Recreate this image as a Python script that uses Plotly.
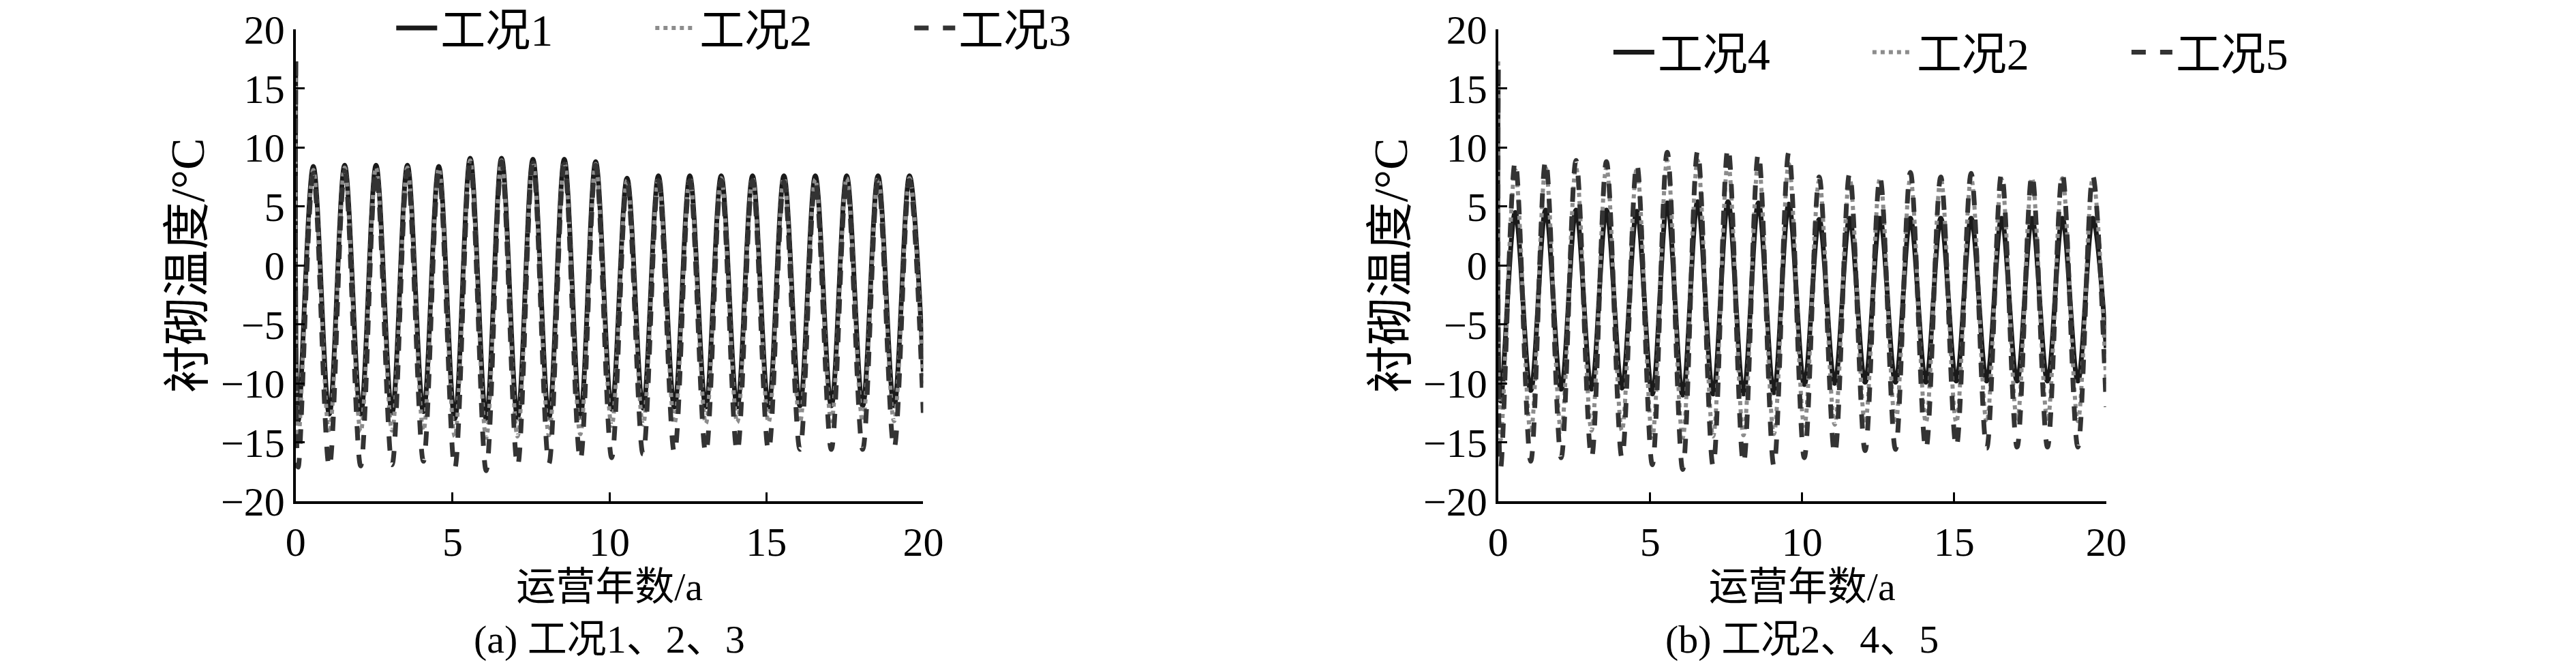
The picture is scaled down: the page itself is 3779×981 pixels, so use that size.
import plotly.graph_objects as go
from plotly.subplots import make_subplots

# time of each yearly minimum / maximum (years)
trough_years = [0.08, 1.07, 2.07, 3.07, 4.07, 5.07, 6.07, 7.07, 8.07, 9.07,
                10.07, 11.07, 12.07, 13.07, 14.07, 15.07, 16.07, 17.07, 18.07, 19.07]
peak_years = [0.56, 1.56, 2.56, 3.56, 4.56, 5.56, 6.56, 7.56, 8.56, 9.56,
              10.56, 11.56, 12.56, 13.56, 14.56, 15.56, 16.56, 17.56, 18.56, 19.56]
start_year = 0.0
end_year = 20.0

x_ticks = [0, 5, 10, 15, 20]
y_ticks = [-20, -15, -10, -5, 0, 5, 10, 15, 20]

# 工况1
case1_start, case1_end = 17.3, -9.0
case1_peaks = [8.4, 8.5, 8.5, 8.5, 8.4, 9.1, 9.1, 9.0, 9.0, 8.8,
               7.4, 7.6, 7.6, 7.6, 7.6, 7.6, 7.6, 7.6, 7.6, 7.6]
case1_troughs = [-13.2, -12.6, -12.6, -12.5, -12.4, -13.0, -13.0, -12.9, -12.9, -12.8,
                 -12.2, -12.1, -12.0, -12.0, -12.0, -12.0, -11.9, -11.9, -11.9, -11.9]

# 工况2
case2_start, case2_end = 17.3, -10.0
case2_peaks = [8.1, 8.3, 8.3, 8.3, 8.2, 8.9, 8.9, 8.8, 8.8, 8.6,
               7.2, 7.4, 7.4, 7.4, 7.4, 7.4, 7.3, 7.4, 7.4, 7.4]
case2_troughs = [-14.8, -14.2, -14.1, -14.0, -14.0, -14.5, -14.6, -14.5, -14.4, -14.3,
                 -13.6, -13.5, -13.4, -13.4, -13.3, -13.3, -13.3, -13.2, -13.2, -13.2]

# 工况3
case3_start, case3_end = 17.3, -12.5
case3_peaks = [7.8, 8.0, 8.0, 8.0, 7.9, 8.7, 8.8, 8.7, 8.6, 8.5,
               7.0, 7.2, 7.2, 7.2, 7.2, 7.1, 7.1, 7.2, 7.2, 7.2]
case3_troughs = [-17.1, -17.1, -17.0, -16.9, -16.6, -17.2, -17.4, -17.0, -16.8, -16.5,
                 -16.3, -16.0, -15.9, -15.9, -15.8, -15.7, -15.6, -15.6, -15.6, -15.5]

# 工况4
case4_start, case4_end = 16.6, -7.0
case4_peaks = [4.5, 4.7, 4.7, 4.7, 4.6, 5.3, 5.4, 5.4, 5.3, 5.2,
               3.9, 4.0, 4.0, 4.0, 4.0, 4.0, 4.0, 4.0, 4.0, 4.0]
case4_troughs = [-11.5, -10.6, -10.5, -10.5, -10.4, -10.9, -11.0, -10.9, -10.9, -10.8,
                 -10.1, -10.0, -9.9, -9.9, -9.9, -9.8, -9.8, -9.8, -9.8, -9.8]

# 工况5
case5_start, case5_end = 16.6, -12.0
case5_peaks = [8.8, 8.9, 8.9, 8.8, 8.6, 9.6, 9.7, 10.0, 9.5, 9.6,
               7.5, 7.8, 7.5, 7.9, 7.5, 7.8, 7.8, 7.7, 7.8, 7.6]
case5_troughs = [-17.2, -16.6, -16.3, -16.3, -16.3, -16.9, -17.3, -17.0, -16.8, -17.0,
                 -16.3, -16.0, -15.7, -15.6, -15.6, -15.4, -15.5, -15.4, -15.4, -15.4]

SERIF = "'Liberation Serif', 'Noto Sans CJK SC', serif"

SOLID = dict(color="#1a1a1a", width=7, dash="solid")
DOTTED = dict(color="#8c8c8c", width=6, dash="dot")
DASHED = dict(color="#333333", width=7, dash="dash")


def build_series(start, troughs, peaks, end):
    """Chains start, yearly min/max pairs and the end value into one curve."""
    xs, ys = [start_year], [start]
    for tx, ty, px, py in zip(trough_years, troughs, peak_years, peaks):
        xs += [tx, px]
        ys += [ty, py]
    xs.append(end_year)
    ys.append(end)
    return xs, ys


panels = [
    (1, "legend", [
        ("工况1", (case1_start, case1_troughs, case1_peaks, case1_end), SOLID),
        ("工况2", (case2_start, case2_troughs, case2_peaks, case2_end), DOTTED),
        ("工况3", (case3_start, case3_troughs, case3_peaks, case3_end), DASHED),
    ]),
    (2, "legend2", [
        ("工况4", (case4_start, case4_troughs, case4_peaks, case4_end), SOLID),
        ("工况2", (case2_start, case2_troughs, case2_peaks, case2_end), DOTTED),
        ("工况5", (case5_start, case5_troughs, case5_peaks, case5_end), DASHED),
    ]),
]

figure = make_subplots(rows=1, cols=2)

for col, legend_name, series in panels:
    for name, values, style in series:
        xs, ys = build_series(*values)
        figure.add_scatter(
            x=xs, y=ys, mode="lines", name=name, legend=legend_name,
            line=dict(shape="spline", smoothing=1.0, **style),
            row=1, col=col,
        )

axis_style = dict(
    showline=True, linecolor="black", linewidth=4,
    ticks="inside", ticklen=13, tickwidth=3, tickcolor="black",
    showgrid=False, zeroline=False, automargin=False,
    tickfont=dict(family=SERIF, size=60, color="black"),
)

figure.update_xaxes(
    range=[0, 20], tickvals=x_ticks, ticklabelstandoff=4, **axis_style,
    title=dict(text="运营年数/a", font=dict(family=SERIF, size=58, color="black"), standoff=6),
)
figure.update_yaxes(
    range=[-20, 20], tickvals=y_ticks, **axis_style,
    title=dict(text="衬砌温度/°C", font=dict(family=SERIF, size=70, color="black"), standoff=2),
)

# plot areas placed to match the original page
figure.update_xaxes(domain=[0.1148, 0.3584], row=1, col=1)
figure.update_xaxes(domain=[0.5816, 0.8176], row=1, col=2)
figure.update_yaxes(domain=[0.2506, 0.9558])

legend_style = dict(
    orientation="h", xanchor="left", yanchor="middle",
    font=dict(family=SERIF, size=66, color="black"),
    bgcolor="rgba(0,0,0,0)", entrywidth=305, entrywidthmode="pixels",
    itemwidth=60, traceorder="normal",
)
figure.update_layout(
    legend=dict(x=0.1525, y=0.958, **legend_style),
    legend2=dict(x=0.625, y=0.922, **legend_style),
)

caption_font = dict(family=SERIF, size=58, color="black")
figure.add_annotation(text="(a) 工况1、2、3", x=0.2366, y=0.044, xref="paper", yref="paper",
                      showarrow=False, font=caption_font, xanchor="center", yanchor="middle")
figure.add_annotation(text="(b) 工况2、4、5", x=0.6996, y=0.044, xref="paper", yref="paper",
                      showarrow=False, font=caption_font, xanchor="center", yanchor="middle")

figure.update_layout(
    width=3779, height=981,
    margin=dict(l=0, r=0, t=0, b=0, autoexpand=False),
    plot_bgcolor="white", paper_bgcolor="white",
    showlegend=True,
)

figure.write_html(
    "out.html",
    config={"displayModeBar": False},
    post_script="document.body.style.margin='0';",
)
